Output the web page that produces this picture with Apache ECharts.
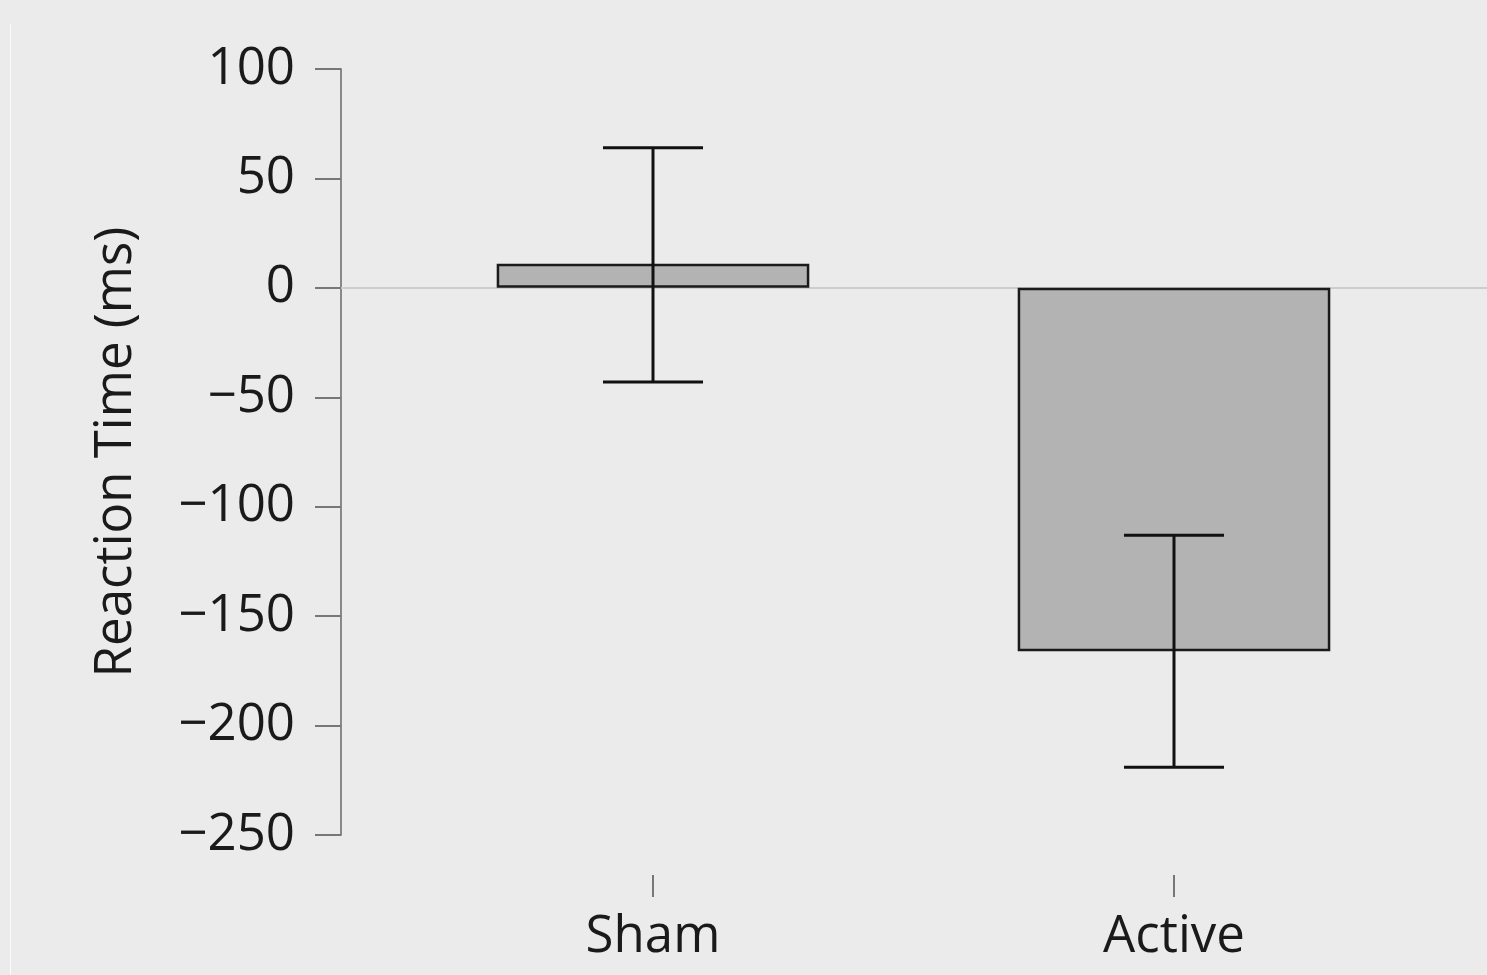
<!DOCTYPE html>
<html>
<head>
<meta charset="utf-8">
<script src="https://cdn.jsdelivr.net/npm/echarts@6/dist/echarts.min.js"></script>
<style>
html,body{margin:0;padding:0;background:#ebebeb;}
#chart{width:1487px;height:975px;}
</style>
</head>
<body>
<div id="chart"></div>
<script>
const categories = ['Sham', 'Active'];
const means = [11, -166];
const errLow = [-43, -219];
const errHigh = [64, -113];
const yTicks = { min: -250, max: 100, interval: 50 };

const FONT = 'Open Sans';
const chart = echarts.init(document.getElementById('chart'));

const errData = categories.map((c, i) => [i, errLow[i], errHigh[i]]);

chart.setOption({
  backgroundColor: '#ebebeb',
  animation: false,
  graphic: [{
    type: 'line', silent: true,
    shape: { x1: 10.5, y1: 24, x2: 10.5, y2: 975 },
    style: { stroke: '#fbfbfb', lineWidth: 1 }
  }],
  grid: [
    { left: 341, right: 0, top: 69, bottom: 140 },
    { left: 392.5, right: 52.5, top: 69, bottom: 140 }
  ],
  xAxis: [
    {
      gridIndex: 0, type: 'value', min: 0, max: 1,
      axisLine: { show: true, onZero: true, lineStyle: { color: '#cdcdcd', width: 2 } },
      axisTick: { show: false }, axisLabel: { show: false }, splitLine: { show: false }
    },
    {
      gridIndex: 1, type: 'category', data: categories, offset: 40,
      axisLine: { show: true, onZero: false, lineStyle: { color: '#ebebeb', width: 0, opacity: 0 } },
      axisTick: { show: true, length: 22, alignWithLabel: true, lineStyle: { color: '#777', width: 2 } },
      axisLabel: { fontFamily: FONT, fontSize: 51, color: '#1a1a1a', margin: 37 },
      splitLine: { show: false }
    }
  ],
  yAxis: [
    {
      gridIndex: 0, type: 'value', min: yTicks.min, max: yTicks.max, interval: yTicks.interval,
      name: 'Reaction Time (ms)', nameLocation: 'middle', nameGap: 199,
      nameTextStyle: { fontFamily: FONT, fontSize: 51, color: '#1a1a1a' },
      axisLine: { show: true, lineStyle: { color: '#888', width: 2 } },
      axisTick: { show: true, length: 26, lineStyle: { color: '#777', width: 2 } },
      axisLabel: {
        fontFamily: FONT, fontSize: 51, color: '#1a1a1a', margin: 46,
        formatter: v => String(v).replace('-', '\u2212')
      },
      splitLine: { show: false }
    },
    {
      gridIndex: 1, type: 'value', min: yTicks.min, max: yTicks.max, interval: yTicks.interval,
      show: false, splitLine: { show: false }
    }
  ],
  series: [
    {
      type: 'bar', xAxisIndex: 1, yAxisIndex: 1, data: means, barWidth: '60%',
      itemStyle: { color: '#b3b3b3', borderColor: '#1a1a1a', borderWidth: 2.5 },
      z: 3
    },
    {
      type: 'custom', xAxisIndex: 1, yAxisIndex: 1, data: errData, z: 5,
      renderItem: function (params, api) {
        const x = api.value(0);
        const lo = api.coord([x, api.value(1)]);
        const hi = api.coord([x, api.value(2)]);
        const half = api.size([1, 0])[0] * 0.096;
        const style = { stroke: '#111', lineWidth: 3 };
        return {
          type: 'group',
          children: [
            { type: 'line', shape: { x1: lo[0], y1: lo[1], x2: hi[0], y2: hi[1] }, style },
            { type: 'line', shape: { x1: hi[0] - half, y1: hi[1], x2: hi[0] + half, y2: hi[1] }, style },
            { type: 'line', shape: { x1: lo[0] - half, y1: lo[1], x2: lo[0] + half, y2: lo[1] }, style }
          ]
        };
      }
    }
  ]
});
</script>
</body>
</html>
